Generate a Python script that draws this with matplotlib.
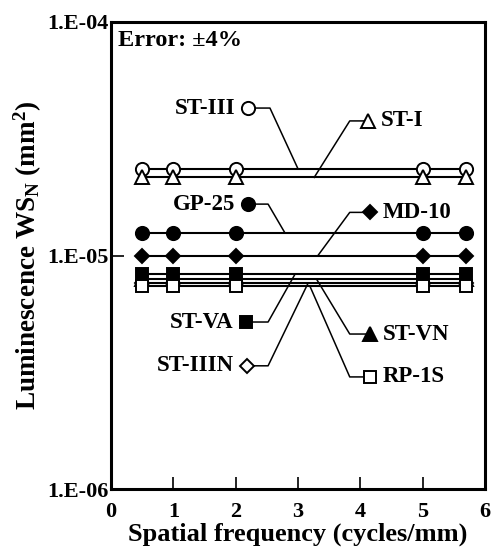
"""Luminescence WS_N vs spatial frequency, log scale."""

import matplotlib

matplotlib.use("Agg")
import matplotlib.pyplot as plt
from matplotlib.ticker import FixedLocator, FixedFormatter, NullLocator

# ── data ──────────────────────────────────────────────────────────────
freq = [0.5, 1.0, 2.0, 5.0, 5.7]

names = ["ST-III", "ST-I", "GP-25", "MD-10", "ST-VN", "ST-IIIN", "ST-VA", "RP-1S"]
ws_st3 = [2.35e-5] * 5
ws_st1 = [2.16e-5] * 5
ws_gp25 = [1.25e-5] * 5
ws_md10 = [1.00e-5] * 5
ws_stvn = [7.9e-6] * 5
ws_st3n = [7.6e-6] * 5
ws_stva = [8.3e-6] * 5
ws_rp1s = [7.4e-6] * 5

y_ticks = [1e-6, 1e-5, 1e-4]
y_tick_labels = ["1.E-06", "1.E-05", "1.E-04"]

# ── style ─────────────────────────────────────────────────────────────
plt.rcParams["font.family"] = ["Liberation Serif", "DejaVu Serif"]
plt.rcParams["font.weight"] = "bold"
plt.rcParams["mathtext.fontset"] = "custom"
plt.rcParams["mathtext.rm"] = "Liberation Serif:bold"
plt.rcParams["mathtext.default"] = "rm"

series = [
    # values, marker, face, label side, marker pos (x, y), elbow x, end x
    (ws_st3, "o", "white", "left", (2.20, 4.28e-5), 2.55, 3.00),
    (ws_st1, "^", "white", "right", (4.12, 3.77e-5), 3.83, 3.26),
    (ws_gp25, "o", "black", "left", (2.20, 1.66e-5), 2.52, 2.79),
    (ws_md10, "D", "black", "right", (4.16, 1.53e-5), 3.83, 3.32),
    (ws_stvn, "^", "black", "right", (4.16, 4.61e-6), 3.83, 3.30),
    (ws_st3n, "D", "white", "left", (2.18, 3.37e-6), 2.52, 3.16),
    (ws_stva, "s", "black", "left", (2.17, 5.19e-6), 2.52, 2.95),
    (ws_rp1s, "s", "white", "right", (4.16, 3.02e-6), 3.83, 3.19),
]
sizes = {"o": 9.5, "^": 9.5, "s": 9.0, "D": 7.5}

fig = plt.figure(figsize=(4.92, 5.54), dpi=100)
ax = fig.add_axes([0.2256, 0.1173, 0.7602, 0.8430])

for z, (name, (vals, mk, face, side, mpos, ex, endx)) in enumerate(zip(names, series)):
    ms = sizes[mk]
    ax.plot(freq, vals, color="black", linewidth=1.5, marker=mk, markersize=ms,
            markerfacecolor=face, markeredgecolor="black", markeredgewidth=1.4,
            zorder=3 + z)
    # leader line: horizontal from the label marker, then diagonal to the series
    mx, my = mpos
    ax.plot([mx, ex, endx], [my, my, vals[0]], color="black", linewidth=1.1, zorder=2)
    ax.plot([mx], [my], marker=mk, markersize=ms, markerfacecolor=face,
            markeredgecolor="black", markeredgewidth=1.4, linestyle="none", zorder=20)
    if side == "left":
        ax.annotate(name, (mx, my), xytext=(-9, 0), textcoords="offset points",
                    ha="right", va="center", fontsize=16.5, fontweight="bold")
    else:
        ax.annotate(name, (mx, my), xytext=(9, 0), textcoords="offset points",
                    ha="left", va="center", fontsize=16.5, fontweight="bold")

ax.text(0.018, 0.982, "Error: \u00b14%", transform=ax.transAxes, ha="left", va="top",
        fontsize=17.5, fontweight="bold")

ax.set_yscale("log")
ax.set_xlim(0, 6)
ax.set_ylim(1e-6, 1e-4)
ax.set_xticks(range(7))
ax.yaxis.set_major_locator(FixedLocator(y_ticks))
ax.yaxis.set_major_formatter(FixedFormatter(y_tick_labels))
ax.yaxis.set_minor_locator(NullLocator())
ax.tick_params(axis="both", direction="in", length=9, width=1.2, labelsize=16, pad=2)
ax.tick_params(axis="x", pad=9)
for lab in ax.get_xticklabels() + ax.get_yticklabels():
    lab.set_fontweight("bold")
for sp in ax.spines.values():
    sp.set_linewidth(2.2)

ax.set_xlabel("Spatial frequency (cycles/mm)", fontsize=19, fontweight="bold", labelpad=1)
ax.set_ylabel(r"Luminescence WS$_{\mathrm{N}}$ (mm$^{2}$)", fontsize=19.5,
              fontweight="bold", labelpad=2)

fig.savefig("out.png", dpi=100)
